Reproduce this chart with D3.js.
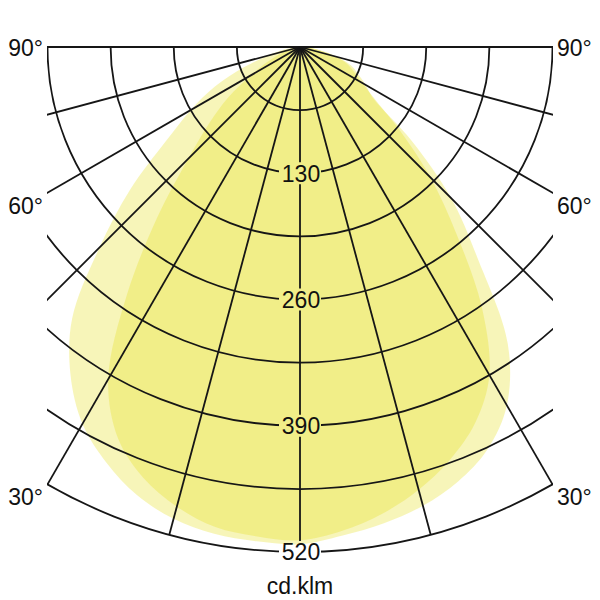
<!DOCTYPE html>
<html>
<head>
<meta charset="utf-8">
<script src="https://cdn.jsdelivr.net/npm/d3@7"></script>
<style>
  body { margin: 0; background: #fff; }
  text { font-family: "Liberation Sans", Arial, sans-serif; font-size: 23px; fill: #111; }
</style>
</head>
<body>
<div id="chart"></div>
<script>
// angles (degrees from nadir) and intensities in cd/klm
var angles = [0, 5, 10, 15, 20, 25, 30, 35, 40, 45, 50, 55, 60, 65, 70, 75, 80, 85, 90];

// wider curve (outer outline)
var outerLeft  = [512, 511, 509, 503, 491, 472, 448, 412, 365, 292, 228, 168, 130, 97, 62, 34, 18, 8, 0];
var outerRight = [508, 505, 498, 489, 476, 457, 426, 373, 285, 220, 150, 92, 78, 66, 56, 40, 22, 10, 0];

// narrower curve (overlap area)
var innerLeft  = [508, 506, 502, 490, 472, 444, 395, 310, 228, 163, 122, 90, 58, 38, 24, 14, 8, 3, 0];
var innerRight = [508, 500, 488, 472, 452, 427, 390, 326, 250, 190, 135, 95, 74, 62, 52, 38, 22, 10, 0];

var ringValues = [65, 130, 195, 260, 325, 390, 455, 520];
var ringLabels = [130, 260, 390, 520];
var spokeAngles = [-90, -75, -60, -45, -30, -15, 0, 15, 30, 45, 60, 75, 90];
var angleLabels = [90, 60, 30];
var unitLabel = "cd.klm";

var w = 600, h = 600;
var cx = 300, cy = 47;           // lamp position
var maxR = 505;                  // radius of the 520 ring
var clipLeft = 47, clipRight = 553;

var r = d3.scaleLinear().domain([0, 520]).range([0, maxR]);
var rad = d3.scaleLinear().domain([0, 180]).range([0, Math.PI]);

var svg = d3.select("#chart").append("svg")
    .attr("width", w)
    .attr("height", h);

var defs = svg.append("defs");
defs.append("clipPath").attr("id", "frame")
  .append("rect")
    .attr("x", clipLeft).attr("y", 0)
    .attr("width", clipRight - clipLeft).attr("height", h);

// mask that cuts the grid lines around the value labels
var mask = defs.append("mask").attr("id", "gaps")
    .attr("maskUnits", "userSpaceOnUse")
    .attr("x", 0).attr("y", 0).attr("width", w).attr("height", h);
mask.append("rect").attr("width", w).attr("height", h).attr("fill", "#fff");
mask.selectAll("rect.gap")
  .data(ringLabels)
  .enter().append("rect")
    .attr("class", "gap")
    .attr("x", cx - 21)
    .attr("y", d => cy + r(d) - 11)
    .attr("width", 42)
    .attr("height", 22)
    .attr("fill", "#000");

var g = svg.append("g").attr("transform", "translate(" + cx + "," + cy + ")");

// polar curve: left side from 90 down to 0, then right side from 0 up to 90
function curvePoints(left, right) {
  var pts = [];
  for (var i = angles.length - 1; i >= 0; i--) pts.push([Math.PI + rad(angles[i]), r(left[i])]);
  for (var j = 1; j < angles.length; j++) pts.push([Math.PI - rad(angles[j]), r(right[j])]);
  return pts;
}

var radial = d3.lineRadial()
    .angle(d => d[0])
    .radius(d => d[1])
    .curve(d3.curveCatmullRomClosed);

var curves = [curvePoints(outerLeft, outerRight), curvePoints(innerLeft, innerRight)];

g.selectAll("path.lum")
  .data(curves)
  .enter().append("path")
    .attr("class", "lum")
    .attr("d", radial)
    .attr("fill", "rgb(228,222,22)")
    .attr("fill-opacity", 0.3)
    .attr("stroke", "none");

// grid
var grid = svg.append("g")
    .attr("clip-path", "url(#frame)")
    .attr("mask", "url(#gaps)")
  .append("g")
    .attr("transform", "translate(" + cx + "," + cy + ")")
    .attr("fill", "none")
    .attr("stroke", "#161616")
    .attr("stroke-width", 1.8);

grid.selectAll("path.ring")
  .data(ringValues)
  .enter().append("path")
    .attr("class", "ring")
    .attr("d", function (d) {
      var p = d3.path();
      p.moveTo(r(d), 0);
      p.arc(0, 0, r(d), 0, Math.PI, false);
      return p.toString();
    });

grid.selectAll("line.spoke")
  .data(spokeAngles)
  .enter().append("line")
    .attr("class", "spoke")
    .attr("x1", 0).attr("y1", 0)
    .attr("x2", d => maxR * Math.sin(rad(d)))
    .attr("y2", d => maxR * Math.cos(rad(d)));

// value labels on the vertical axis
svg.selectAll("text.val")
  .data(ringLabels)
  .enter().append("text")
    .attr("class", "val")
    .attr("x", cx + 1)
    .attr("y", d => cy + r(d))
    .attr("dy", "0.36em")
    .attr("text-anchor", "middle")
    .text(d => d);

// angle labels on both sides
var labelY = {90: 48, 60: 206, 30: 497};
svg.selectAll("text.angL")
  .data(angleLabels)
  .enter().append("text")
    .attr("class", "angL")
    .attr("x", 43)
    .attr("y", d => labelY[d])
    .attr("dy", "0.36em")
    .attr("text-anchor", "end")
    .text(d => d + "°");

svg.selectAll("text.angR")
  .data(angleLabels)
  .enter().append("text")
    .attr("class", "angR")
    .attr("x", 557)
    .attr("y", d => labelY[d])
    .attr("dy", "0.36em")
    .attr("text-anchor", "start")
    .text(d => d + "°");

svg.append("text")
    .attr("x", cx)
    .attr("y", 594)
    .attr("text-anchor", "middle")
    .text(unitLabel);
</script>
</body>
</html>
